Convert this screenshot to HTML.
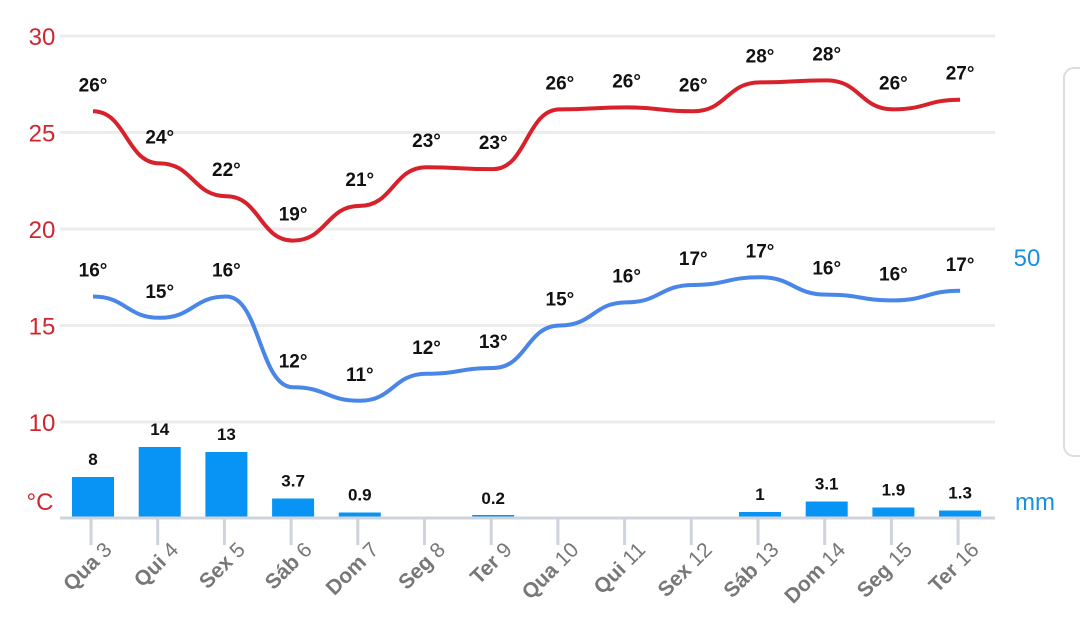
<!DOCTYPE html>
<html><head><meta charset="utf-8"><style>
body{margin:0;background:#fff;width:1080px;height:622px;overflow:hidden;font-family:"Liberation Sans",sans-serif}
</style></head><body>
<svg id="c" width="1080" height="622" xmlns="http://www.w3.org/2000/svg">
<rect x="1064" y="68" width="40" height="388" rx="10" fill="#fff" stroke="#ddd" stroke-width="2"/>
</svg>
<script>
const days=["Qua","Qui","Sex","Sáb","Dom","Seg","Ter","Qua","Qui","Sex","Sáb","Dom","Seg","Ter"];
const dates=["3","4","5","6","7","8","9","10","11","12","13","14","15","16"];
const highs=[26.1,23.4,21.7,19.4,21.2,23.2,23.1,26.2,26.3,26.1,27.6,27.7,26.2,26.7];
const highLabels=[26,24,22,19,21,23,23,26,26,26,28,28,26,27];
const lows=[16.5,15.4,16.5,11.8,11.1,12.5,12.8,15.0,16.2,17.1,17.5,16.6,16.3,16.8];
const lowLabels=[16,15,16,12,11,12,13,15,16,17,17,16,16,17];
const precip=[8,14,13,3.7,0.9,0,0.2,0,0,0,1,3.1,1.9,1.3];
const precipLabels=["8","14","13","3.7","0.9","","0.2","","","","1","3.1","1.9","1.3"];
const tempTicks=[30,25,20,15,10];
const svg=document.getElementById('c');const NS="http://www.w3.org/2000/svg";
const X=i=>93+i*66.7;
const Y=v=>36+(30-v)*19.3;
const BASE=517;
const P=v=>BASE-v*5;
function mk(t,a,p){const e=document.createElementNS(NS,t);for(const k in a)e.setAttribute(k,a[k]);(p||svg).appendChild(e);return e;}
tempTicks.forEach(t=>{
const g=mk('line',{x1:60,x2:995,y1:Y(t),y2:Y(t),stroke:'#ececec','stroke-width':3});


const l=mk('text',{x:42,y:Y(t)+9,'text-anchor':'middle','font-size':24,fill:'#d0262e'});l.textContent=t;


});
const cu=mk('text',{x:40,y:510,'text-anchor':'middle','font-size':24,fill:'#d0262e'});cu.textContent='°C';


const r50=mk('text',{x:1027,y:266,'text-anchor':'middle','font-size':24,fill:'#1a8fe0'});r50.textContent='50';


const mm=mk('text',{x:1035,y:510,'text-anchor':'middle','font-size':24,fill:'#1a8fe0'});mm.textContent='mm';


precip.forEach((v,i)=>{
const h=Math.max(v*5,0);
if(v>0){const b=mk('rect',{x:X(i)-21,y:P(v)-(v<0.5?1:0),width:42,height:h+(v<0.5?1:0),fill:'#0894f5'});

}
if(precipLabels[i]){const t=mk('text',{x:X(i),y:P(v)-12,'text-anchor':'middle','font-size':17,'font-weight':'bold',fill:'#111'});t.textContent=precipLabels[i];

}
});
const ax=mk('line',{x1:60,x2:995,y1:BASE+1,y2:BASE+1,stroke:'#cfd3dc','stroke-width':3});


days.forEach((d,i)=>{
const tk=mk('line',{x1:X(i)-2,x2:X(i)-2,y1:BASE,y2:BASE+28,stroke:'#cfd3dc','stroke-width':3});


const t=mk('text',{x:X(i)+20,y:BASE+34,'text-anchor':'end','font-size':21,fill:'#777',transform:`rotate(-45 ${X(i)+20} ${BASE+34})`});
const a=mk('tspan',{'font-weight':'bold'},t);a.textContent=d+' ';
const b=mk('tspan',{},t);b.textContent=dates[i];


});
function curve(arr){const p=arr.map((v,i)=>[X(i),Y(v)]);let d=`M${p[0][0]},${p[0][1]}`;
for(let i=0;i<p.length-1;i++){const mx=(p[i][0]+p[i+1][0])/2;d+=` C${mx},${p[i][1]} ${mx},${p[i+1][1]} ${p[i+1][0]},${p[i+1][1]}`;}return d;}
const hl=mk('path',{d:curve(highs),fill:'none',stroke:'#d7222b','stroke-width':4});


const ll=mk('path',{d:curve(lows),fill:'none',stroke:'#4a86e8','stroke-width':4});


[[highs,highLabels,'high-temp-label'],[lows,lowLabels,'low-temp-label']].forEach(([vals,labs,n])=>{
vals.forEach((v,i)=>{const t=mk('text',{x:X(i),y:Y(v)-20,'text-anchor':'middle','font-size':19,'font-weight':'bold',fill:'#111'});t.textContent=labs[i]+'°';

});
});
</script>
</body></html>
